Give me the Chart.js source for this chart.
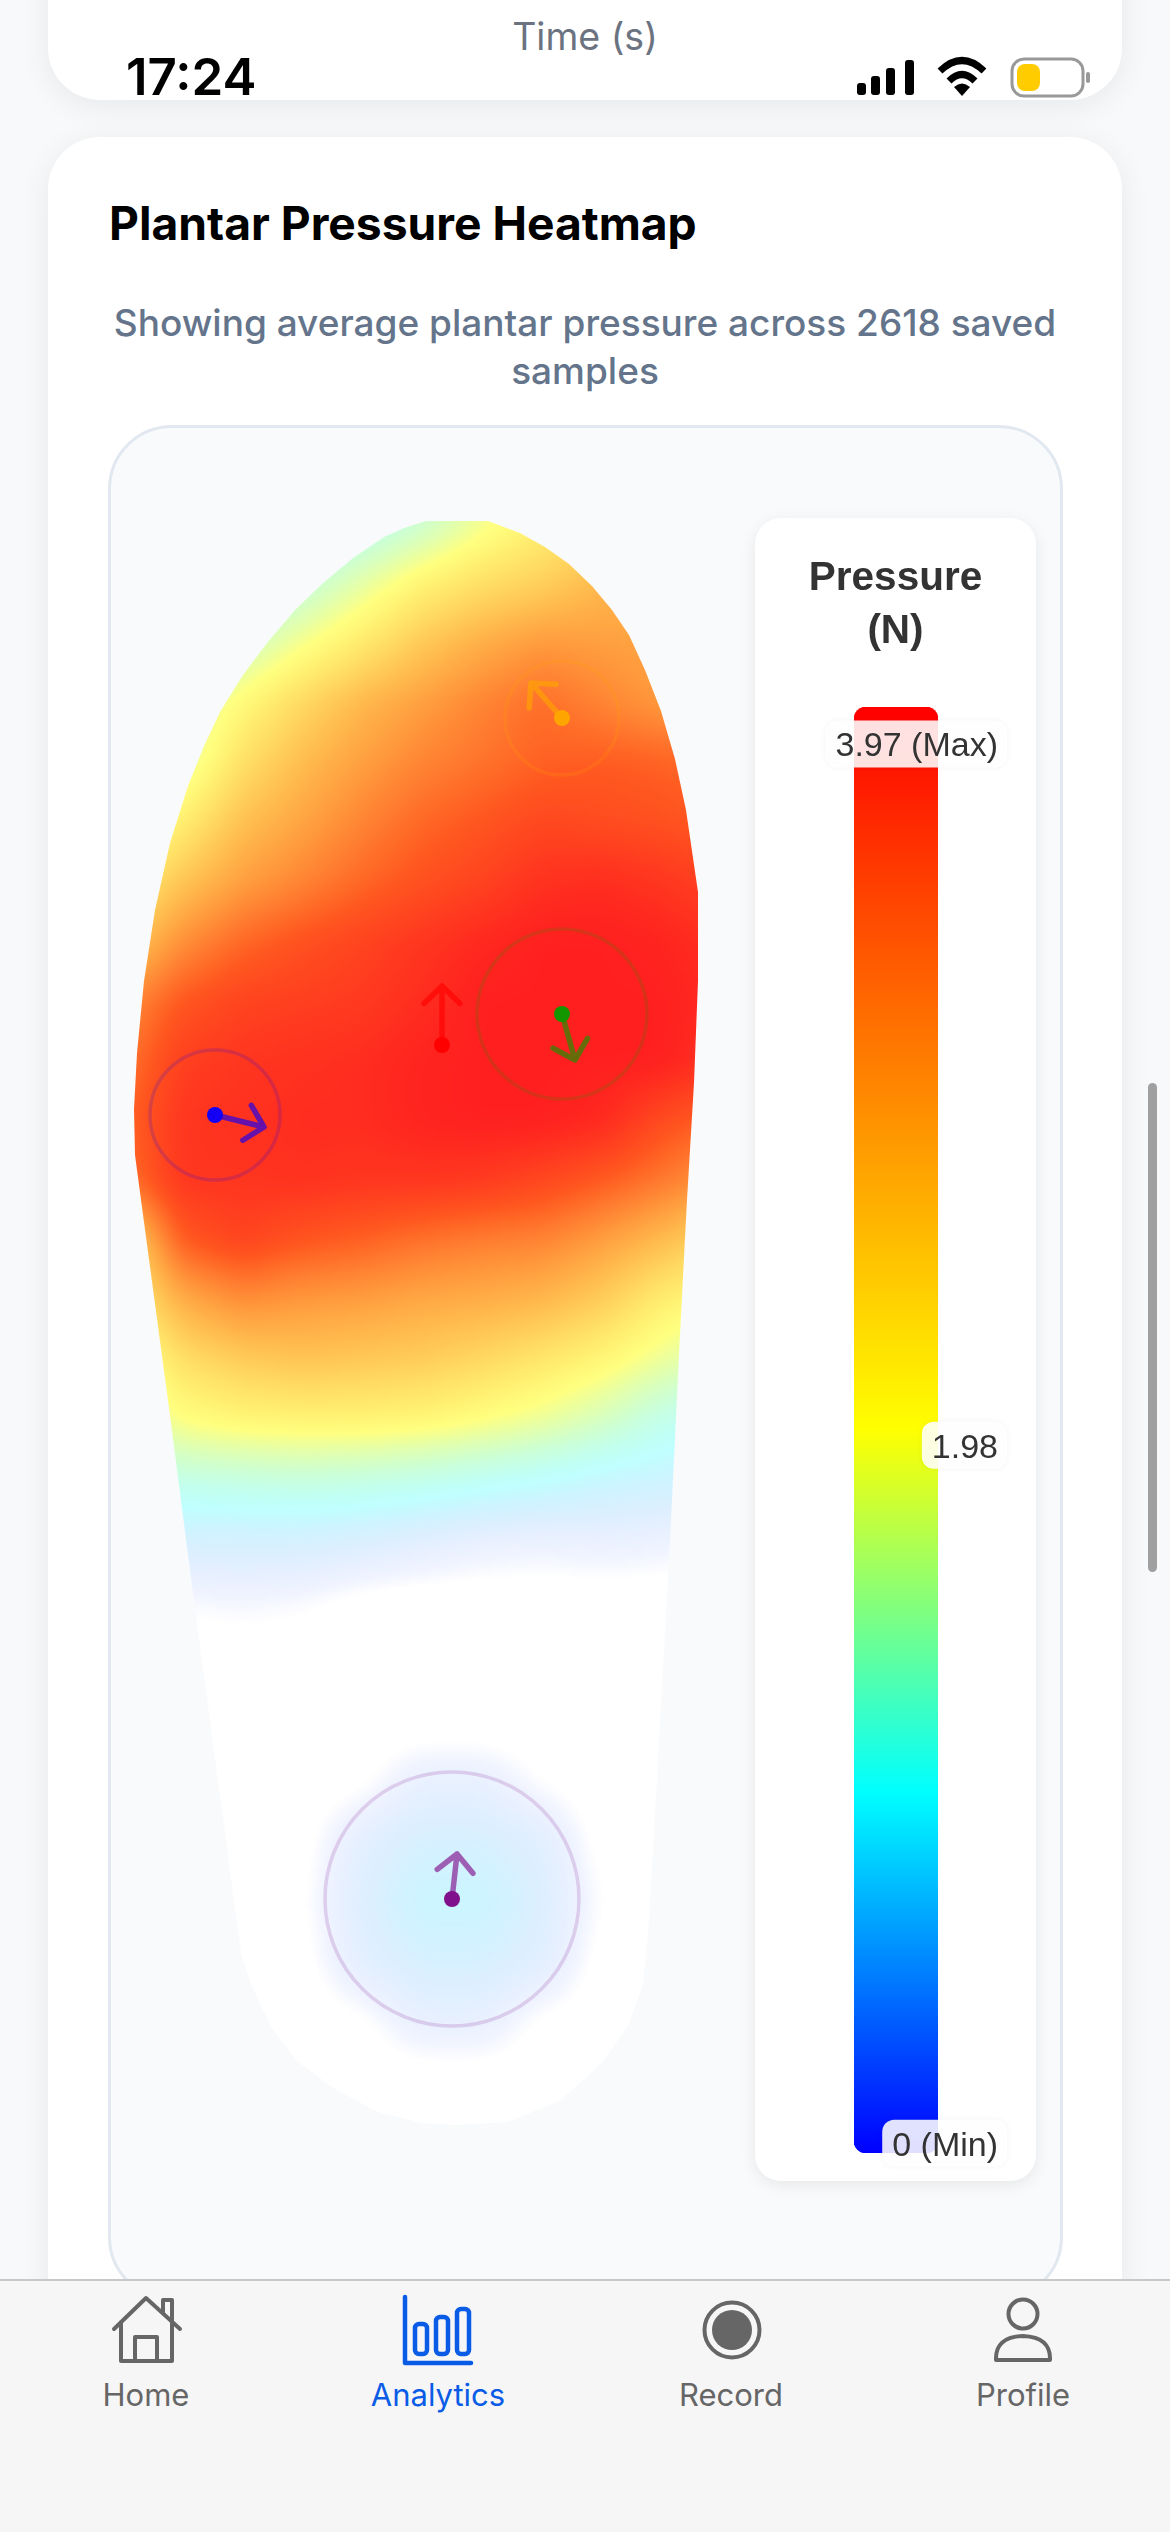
<!DOCTYPE html>
<html>
<head>
<meta charset="utf-8">
<title>Plantar Pressure Heatmap</title>
<script src="https://cdn.jsdelivr.net/npm/chart.js@4"></script>
<style>
  html, body { margin: 0; padding: 0; }
  body { width: 1170px; height: 2532px; position: relative; overflow: hidden; background: #f8f9fa; font-family: Inter, sans-serif; }
  .abs { position: absolute; }
  .card { position: absolute; left: 48px; width: 1074px; background: #fff; border-radius: 52px; box-shadow: 0 6px 32px rgba(0,0,0,0.07); }
  .text { position: absolute; white-space: nowrap; }
  #panel { position: absolute; left: 108px; top: 425px; width: 949px; height: 1870px; background: #f8fafc; border: 3px solid #e2e8f0; border-radius: 64px; }
  #legend { position: absolute; left: 755px; top: 518px; width: 281px; height: 1663px; background: #fff; border-radius: 26px; box-shadow: 0 4px 16px rgba(0,0,0,0.08); }
  #legend div { position: absolute; left: 0; width: 281px; text-align: center; font: bold 40.5px "Liberation Sans", sans-serif; color: #333; }
  #heatChart { position: absolute; left: 110px; top: 426px; filter: blur(0.7px); }
  #barChart { position: absolute; left: 755px; top: 518px; }
  #tabbar { position: absolute; left: 0; top: 2279px; width: 1170px; height: 253px; background: #f6f6f7; border-top: 2px solid #c8c8ca; box-sizing: border-box; }
  .tab { position: absolute; top: 2376px; width: 240px; text-align: center; font-size: 31px; color: #666; }
  #scroll { position: absolute; left: 1148px; top: 1083px; width: 9px; height: 489px; background: #a0a0a0; border-radius: 5px; }
</style>
</head>
<body>
<div class="card" style="top:-100px;height:200px"></div>
<div class="card" style="top:137px;height:2500px"></div>
<div class="text" style="left:0;width:1170px;text-align:center;top:14px;font-size:37.5px;color:#6b7280">Time (s)</div>
<div class="text" style="left:126px;top:46px;font-size:51px;font-weight:600;color:#000">17:24</div>
<svg class="abs" style="left:850px;top:50px" width="250" height="56" viewBox="850 50 250 56">
  <rect x="857" y="83" width="9" height="12" rx="3"/><rect x="871" y="76" width="9" height="19" rx="3"/>
  <rect x="886" y="68" width="9" height="27" rx="3"/><rect x="905" y="60" width="9" height="35" rx="3"/>
  <path d="M940 71 Q962 50 984 71" fill="none" stroke="#000" stroke-width="7"/>
  <path d="M949 81 Q962 68 975 81" fill="none" stroke="#000" stroke-width="7"/>
  <path d="M954 87 L962 96 L970 87 Q962 80 954 87 Z"/>
  <rect x="1012" y="59" width="71" height="37" rx="12" fill="none" stroke="#999" stroke-width="3"/>
  <rect x="1017" y="64" width="23" height="27" rx="8" fill="#ffcc00"/>
  <rect x="1086" y="72" width="4" height="11" rx="2" fill="#999"/>
</svg>
<div class="text" style="left:109px;top:195px;font-size:46.2px;font-weight:700;color:#000">Plantar Pressure Heatmap</div>
<div class="text" style="left:0;width:1170px;text-align:center;top:300px;font-size:37px;font-weight:500;color:#64748b">Showing average plantar pressure across 2618 saved</div>
<div class="text" style="left:0;width:1170px;text-align:center;top:348px;font-size:37px;font-weight:500;color:#64748b">samples</div>
<div id="panel"></div>
<canvas id="heatChart" width="650" height="1853"></canvas>
<div id="legend"><div style="top:35px">Pressure</div><div style="top:88px">(N)</div></div>
<canvas id="barChart" width="281" height="1663"></canvas>
<div id="tabbar"></div>
<svg class="abs" style="left:0;top:2285px" width="1170" height="90" viewBox="0 2285 1170 90" fill="none" stroke="#666" stroke-width="4" stroke-linejoin="round" stroke-linecap="round">
  <path d="M114 2329 L146 2298 L180 2329 M121 2322 V2361 H172 V2322 M163 2313 V2300 H172 V2321 M135 2361 V2337 H157 V2361"/>
  <g stroke="#0a5ce6"><path d="M405 2297 V2363 H471" stroke-width="4.5"/>
  <rect x="415" y="2324" width="12" height="30" rx="4" stroke-width="4.5"/><rect x="436" y="2317" width="12" height="37" rx="4" stroke-width="4.5"/><rect x="457" y="2309" width="12" height="45" rx="4" stroke-width="4.5"/></g>
  <circle cx="732" cy="2330" r="27.5"/><circle cx="732" cy="2330" r="20" fill="#666" stroke="none"/>
  <circle cx="1023" cy="2314" r="14.5"/><path d="M996 2360 Q995 2337 1023 2336 Q1051 2337 1050 2360 Z"/>
</svg>
<div class="tab" style="left:26px">Home</div>
<div class="tab" style="left:318px;color:#0a5ce6">Analytics</div>
<div class="tab" style="left:611px">Record</div>
<div class="tab" style="left:903px">Profile</div>
<div id="scroll"></div>

<script>
// insole outline, clockwise from the top
const outlineX = [426, 488, 520, 545, 569, 592, 612, 629, 645, 661, 675, 686, 698, 698, 694, 687, 680, 669, 649, 643, 629, 602, 561, 508, 455, 422, 378, 333, 296, 271, 251, 241, 196, 169, 141, 135, 134, 137, 144, 155, 170, 188, 204, 220, 243, 267, 295, 322, 353, 384, 404];
const outlineY = [521, 521, 533, 547, 564, 586, 610, 635, 670, 711, 759, 810, 892, 981, 1083, 1200, 1335, 1561, 1922, 1984, 2024, 2063, 2100, 2122, 2125, 2123, 2112, 2088, 2060, 2027, 1984, 1953, 1616, 1408, 1200, 1155, 1109, 1053, 981, 910, 843, 786, 746, 712, 675, 643, 610, 584, 558, 537, 528];

// pressure, percent of the max, one row per heatY
const heatX = [120, 180, 240, 300, 360, 420, 480, 540, 600, 660, 720];
const heatY = [520, 580, 640, 700, 760, 820, 880, 940, 1000, 1060, 1120, 1180, 1240, 1300, 1360, 1420, 1480, 1540, 1600, 1660, 1720, 1780, 1840, 1900, 1960, 2020, 2080];
const heatPct = [
  [8, 10, 15, 22, 28, 36, 47, 55, 60, 65, 68],
  [12, 18, 26, 34, 44, 54, 60, 64, 70, 72, 74],
  [20, 28, 38, 48, 57, 66, 72, 76, 75, 74, 74],
  [28, 40, 52, 62, 70, 75, 80, 84, 80, 76, 74],
  [32, 44, 60, 69, 75, 80, 83, 86, 87, 86, 84],
  [42, 56, 68, 74, 80, 85, 88, 91, 90, 89, 87],
  [55, 67, 75, 80, 85, 89, 92, 96, 97, 95, 92],
  [65, 78, 85, 89, 92, 95, 98, 100, 100, 99, 96],
  [78, 88, 92, 93, 94, 97, 100, 100, 100, 100, 97],
  [82, 93, 95, 96, 97, 99, 100, 100, 100, 100, 95],
  [85, 95, 96, 97, 97, 99, 100, 100, 98, 90, 85],
  [82, 95, 95, 96, 95, 95, 94, 91, 87, 82, 76],
  [60, 87, 92, 88, 86, 83, 81, 80, 75, 69, 62],
  [55, 72, 78, 76, 75, 73, 72, 70, 65, 56, 50],
  [45, 60, 65, 67, 66, 65, 62, 58, 53, 46, 40],
  [38, 50, 53, 54, 54, 53, 50, 46, 40, 31, 26],
  [28, 32, 33, 34, 33, 31, 28, 25, 21, 19, 17],
  [15, 16, 16, 16, 14, 11, 8, 7, 8, 7, 5],
  [2, 4, 5, 4, 1, 0, 0, 0, 0, 0, 0],
  [0, 0, 0, 0, 0, 0, 0, 0, 0, 0, 0],
  [0, 0, 0, 0, 0, 0, 0, 0, 0, 0, 0],
  [0, 0, 0, 0, 2, 9, 9, 3, 0, 0, 0],
  [0, 0, 0, 1, 11, 16, 16, 12, 1, 0, 0],
  [0, 0, 0, 2, 13, 21, 21, 14, 3, 0, 0],
  [0, 0, 0, 1, 11, 16, 16, 12, 1, 0, 0],
  [0, 0, 0, 0, 2, 9, 9, 2, 0, 0, 0],
  [0, 0, 0, 0, 0, 0, 0, 0, 0, 0, 0]
];

// sensors: position, pressure ring radius (none visible on the red one), force vector
const sensorX = [562, 562, 442, 215, 452];
const sensorY = [718, 1014, 1045, 1115, 1899];
const sensorRing = [57, 85, 0, 65, 127];
const vectorX = [-31, 13, 0, 49, 5];
const vectorY = [-35, 46, -59, 12, -45];
const sensorColors = ['255,165,0', '20,150,0', '255,0,0', '20,0,245', '128,16,140'];

// colour bar
const scaleLow = -0.028;
const scaleHigh = 4.075;
const tickValues = [0, 1.98, 3.97];
const tickLabels = ['0 (Min)', '1.98', '3.97 (Max)'];

const colorStops = [[0, 0, 0, 255], [0.25, 0, 255, 255], [0.5, 255, 255, 0], [1, 255, 0, 0]];

function heatColor(t) {
  let i = 0;
  while (i < colorStops.length - 2 && t > colorStops[i + 1][0]) i++;
  const a = colorStops[i], b = colorStops[i + 1];
  const f = Math.max(0, Math.min(1, (t - a[0]) / (b[0] - a[0])));
  return [a[1] + (b[1] - a[1]) * f, a[2] + (b[2] - a[2]) * f, a[3] + (b[3] - a[3]) * f];
}

// opacity follows the value, very low values drop out quickly to plain white
function heatAlpha(t) {
  if (t < 0.03) return 0;
  if (t < 0.06) return (t - 0.03) * 2;
  return Math.min(t, 0.88);
}

function sampleHeat(x, y) {
  const fx = Math.max(0, Math.min(heatX.length - 1.001, (x - heatX[0]) / (heatX[1] - heatX[0])));
  const fy = Math.max(0, Math.min(heatY.length - 1.001, (y - heatY[0]) / (heatY[1] - heatY[0])));
  const ix = Math.floor(fx), iy = Math.floor(fy);
  const dx = fx - ix, dy = fy - iy;
  const top = heatPct[iy][ix] * (1 - dx) + heatPct[iy][ix + 1] * dx;
  const bot = heatPct[iy + 1][ix] * (1 - dx) + heatPct[iy + 1][ix + 1] * dx;
  return (top * (1 - dy) + bot * dy) / 100;
}

function boxBlur(values, w, h, r) {
  const out = new Float32Array(values.length);
  for (let y = 0; y < h; y++) {
    for (let x = 0; x < w; x++) {
      let sum = 0, n = 0;
      for (let k = -r; k <= r; k++) {
        const xx = x + k;
        if (xx >= 0 && xx < w) { sum += values[y * w + xx]; n++; }
      }
      out[y * w + x] = sum / n;
    }
  }
  const res = new Float32Array(values.length);
  for (let x = 0; x < w; x++) {
    for (let y = 0; y < h; y++) {
      let sum = 0, n = 0;
      for (let k = -r; k <= r; k++) {
        const yy = y + k;
        if (yy >= 0 && yy < h) { sum += out[yy * w + x]; n++; }
      }
      res[y * w + x] = sum / n;
    }
  }
  return res;
}

// paints the pressure field inside the insole, right after the white outline dataset
const heatLayer = {
  id: 'heatLayer',
  afterDatasetDraw(chart, args) {
    if (args.index !== 0) return;
    const { ctx, chartArea, scales } = chart;
    const step = 3;
    const w = Math.ceil(chartArea.width / step), h = Math.ceil(chartArea.height / step);
    let values = new Float32Array(w * h);
    for (let y = 0; y < h; y++) {
      for (let x = 0; x < w; x++) {
        values[y * w + x] = sampleHeat(
          scales.x.getValueForPixel(chartArea.left + x * step),
          scales.y.getValueForPixel(chartArea.top + y * step)
        );
      }
    }
    values = boxBlur(boxBlur(values, w, h, 4), w, h, 4);
    const off = document.createElement('canvas');
    off.width = w;
    off.height = h;
    const offCtx = off.getContext('2d');
    const img = offCtx.createImageData(w, h);
    for (let i = 0; i < w * h; i++) {
      const c = heatColor(values[i]);
      img.data[i * 4] = c[0];
      img.data[i * 4 + 1] = c[1];
      img.data[i * 4 + 2] = c[2];
      img.data[i * 4 + 3] = heatAlpha(values[i]) * 255;
    }
    offCtx.putImageData(img, 0, 0);
    ctx.save();
    ctx.beginPath();
    outlineX.forEach((x, i) => {
      const px = scales.x.getPixelForValue(x), py = scales.y.getPixelForValue(outlineY[i]);
      if (i === 0) ctx.moveTo(px, py); else ctx.lineTo(px, py);
    });
    ctx.closePath();
    ctx.clip();
    ctx.imageSmoothingEnabled = true;
    ctx.imageSmoothingQuality = 'high';
    ctx.drawImage(off, chartArea.left, chartArea.top, w * step, h * step);
    ctx.restore();
  }
};

function arrowPoints(i) {
  const x = sensorX[i], y = sensorY[i];
  const tx = x + vectorX[i], ty = y + vectorY[i];
  const ang = Math.atan2(vectorY[i], vectorX[i]);
  const arm = (a) => ({ x: tx - 25 * Math.cos(ang + a), y: ty - 25 * Math.sin(ang + a) });
  return [{ x, y }, { x: tx, y: ty }, arm(0.8), { x: tx, y: ty }, arm(-0.8)];
}

const heatDatasets = [{
  label: 'Insole',
  data: outlineX.map((x, i) => ({ x, y: outlineY[i] })),
  showLine: true,
  fill: 'shape',
  backgroundColor: '#ffffff',
  borderWidth: 0,
  pointRadius: 0,
  order: 10
}];
sensorX.forEach((x, i) => {
  heatDatasets.push({
    label: 'Ring ' + i,
    data: [{ x, y: sensorY[i] }],
    pointRadius: sensorRing[i],
    pointBackgroundColor: 'transparent',
    pointBorderColor: 'rgba(' + sensorColors[i] + ',0.17)',
    pointBorderWidth: 3.5,
    order: 5
  });
  heatDatasets.push({
    label: 'Vector ' + i,
    data: arrowPoints(i),
    showLine: true,
    fill: false,
    borderColor: 'rgba(' + sensorColors[i] + ',0.65)',
    borderWidth: 5.5,
    borderCapStyle: 'round',
    borderJoinStyle: 'round',
    pointRadius: 0,
    order: 3
  });
  heatDatasets.push({
    label: 'Sensor ' + i,
    data: [{ x, y: sensorY[i] }],
    pointRadius: 8,
    pointBackgroundColor: 'rgb(' + sensorColors[i] + ')',
    pointBorderWidth: 0,
    order: 1
  });
});

new Chart(document.getElementById('heatChart'), {
  type: 'scatter',
  data: { datasets: heatDatasets },
  options: {
    responsive: false,
    animation: false,
    devicePixelRatio: 1,
    layout: { padding: 0, autoPadding: false },
    scales: {
      x: { type: 'linear', min: 110, max: 760, display: false },
      y: { type: 'linear', min: 426, max: 2279, reverse: true, display: false }
    },
    plugins: { legend: { display: false }, tooltip: { enabled: false } }
  },
  plugins: [heatLayer]
});

// rounded white boxes under the tick labels
const labelBoxes = {
  id: 'labelBoxes',
  afterDatasetsDraw(chart) {
    const { ctx, scales } = chart;
    ctx.save();
    ctx.font = '34px "Liberation Sans"';
    tickValues.forEach((v, i) => {
      const right = 252;
      const w = ctx.measureText(tickLabels[i]).width + 19;
      const cy = scales.y.getPixelForValue(v);
      ctx.shadowColor = 'rgba(0,0,0,0.06)';
      ctx.shadowBlur = 6;
      ctx.fillStyle = 'rgba(255,255,255,0.88)';
      ctx.beginPath();
      ctx.roundRect(right - w, cy - 23.5, w, 47, 12);
      ctx.fill();
    });
    ctx.restore();
  }
};

new Chart(document.getElementById('barChart'), {
  type: 'bar',
  data: {
    labels: ['Pressure (N)'],
    datasets: [{
      data: [[scaleLow, scaleHigh]],
      barThickness: 84,
      borderRadius: 12,
      borderSkipped: false,
      backgroundColor(context) {
        const { ctx, chartArea } = context.chart;
        if (!chartArea) return '#ff0000';
        const g = ctx.createLinearGradient(0, chartArea.bottom, 0, chartArea.top);
        colorStops.forEach((s) => g.addColorStop(s[0], 'rgb(' + s[1] + ',' + s[2] + ',' + s[3] + ')'));
        return g;
      }
    }]
  },
  options: {
    responsive: false,
    animation: false,
    devicePixelRatio: 1,
    layout: { padding: { left: 99, top: 189, bottom: 28 } },
    scales: {
      x: { display: false },
      y: {
        position: 'right',
        min: scaleLow,
        max: scaleHigh,
        afterFit(scale) {
          scale.width = 98;
          // mirrored labels reserve room below the axis, the bar needs all of it
          scale.paddingTop = 0;
          scale.paddingBottom = 0;
        },
        afterBuildTicks(scale) { scale.ticks = tickValues.map((value) => ({ value })); },
        border: { display: false },
        grid: { display: false, drawTicks: false, tickLength: 0 },
        ticks: {
          z: 1,
          autoSkip: false,
          mirror: true,
          crossAlign: 'near',
          padding: 60,
          labelOffset: 3,
          color: '#333',
          font: { family: '"Liberation Sans"', size: 34 },
          callback(value, index) { return tickLabels[index]; }
        }
      }
    },
    plugins: { legend: { display: false }, tooltip: { enabled: false } }
  },
  plugins: [labelBoxes]
});
</script>
</body>
</html>
